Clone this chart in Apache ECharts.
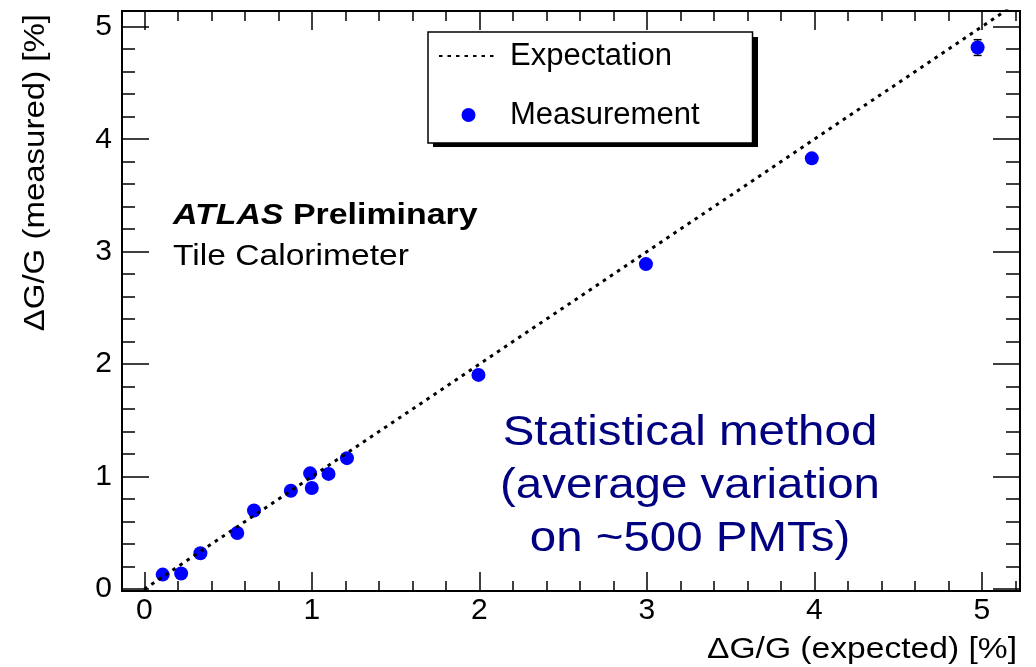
<!DOCTYPE html>
<html>

<head>
    <meta charset="utf-8">
    <script type="text/javascript" src="https://cdn.jsdelivr.net/npm/echarts@6.0.0/dist/echarts.min.js"></script>
    <title>ΔG/G measured vs expected</title>
</head>

<body style="margin:0">
    <div id="container" style="width:1036px;height:667px;"></div>
    <script type="text/javascript">
    // measured gain variation
    var measX = [0.11, 0.22, 0.335, 0.555, 0.655, 0.875, 0.99, 1.0, 1.10, 1.21, 1.995, 2.995, 3.985, 4.975];
    var measY = [0.13, 0.14, 0.32, 0.50, 0.70, 0.875, 1.03, 0.90, 1.025, 1.165, 1.905, 2.89, 3.83, 4.815];
    var measErr = [0.01, 0.01, 0.01, 0.01, 0.01, 0.015, 0.015, 0.015, 0.015, 0.02, 0.02, 0.03, 0.04, 0.07];

    // expectation: measured = expected
    var expectX = [0, 5.3];
    var expectY = [0, 5.3];

    // axis ticks
    var xTicks = [0, 1, 2, 3, 4, 5];
    var yTicks = [0, 1, 2, 3, 4, 5];

    var FONT = 'Liberation Sans';
    var STRETCH = 1.12; // text in the original is a bit wider than Arial

    function minorTicks(max) {
        var out = [];
        for (var v = 0; v <= max + 1e-9; v += 0.2) out.push(Math.round(v * 10) / 10);
        return out;
    }
    var xMinor = minorTicks(5.2);
    var yMinor = minorTicks(5.0);

    function makeAxis(range, pos, ticks, len, labels) {
        var ax = {
            type: 'value',
            position: pos,
            min: range[0],
            max: range[1],
            axisLine: { show: false, onZero: false },
            splitLine: { show: false },
            axisTick: {
                inside: true,
                length: len,
                customValues: ticks,
                lineStyle: { color: '#000', width: 1.5 }
            },
            axisLabel: { show: false }
        };
        if (labels) {
            ax.axisLabel = {
                show: true,
                customValues: ticks,
                color: '#000',
                fontFamily: FONT,
                fontSize: 30,
                margin: pos === 'left' ? 10 : 5
            };
        }
        return ax;
    }

    var xr = [-0.133, 5.228];
    var yr = [-0.016, 5.14];

    var myChart = echarts.init(document.getElementById('container'));

    var option = {
        animation: false,
        backgroundColor: '#fff',
        grid: {
            left: 122,
            top: 11,
            right: 16,
            bottom: 76,
            show: true,
            borderColor: '#000',
            borderWidth: 2,
            outerBoundsMode: 'none'
        },
        xAxis: [
            makeAxis(xr, 'bottom', xTicks, 19, true),
            makeAxis(xr, 'bottom', xMinor, 10, false),
            makeAxis(xr, 'top', xTicks, 19, false),
            makeAxis(xr, 'top', xMinor, 10, false)
        ],
        yAxis: [
            makeAxis(yr, 'left', yTicks, 27, true),
            makeAxis(yr, 'left', yMinor, 13, false),
            makeAxis(yr, 'right', yTicks, 27, false),
            makeAxis(yr, 'right', yMinor, 14, false)
        ],
        legend: {
            orient: 'vertical',
            left: 428,
            top: 32,
            padding: [6, 53, 10, 10],
            itemWidth: 59,
            itemHeight: 14,
            itemGap: 23,
            backgroundColor: '#fff',
            borderColor: '#000',
            borderWidth: 1.5,
            selectedMode: false,
            textStyle: {
                fontFamily: FONT,
                fontSize: 31,
                color: '#000',
                lineHeight: 36,
                padding: [0, 0, 0, 7]
            },
            data: [
                { name: 'Expectation', itemStyle: { opacity: 0 } },
                { name: 'Measurement' }
            ]
        },
        graphic: [{
            // legend box shadow
            type: 'rect',
            z: 3,
            shape: { x: 433, y: 37, width: 325, height: 110 },
            style: { fill: '#000' }
        }, {
            type: 'text',
            x: 173,
            y: 216,
            scaleX: 1.13,
            style: {
                text: '{a|ATLAS}{b| Preliminary}',
                verticalAlign: 'middle',
                fill: '#000',
                rich: {
                    a: { fontFamily: FONT, fontSize: 30, fontWeight: 'bold', fontStyle: 'italic' },
                    b: { fontFamily: FONT, fontSize: 30, fontWeight: 'bold' }
                }
            }
        }, {
            type: 'text',
            x: 173,
            y: 257,
            scaleX: STRETCH,
            style: {
                text: 'Tile Calorimeter',
                fontFamily: FONT,
                fontSize: 30,
                verticalAlign: 'middle',
                fill: '#000'
            }
        }, {
            type: 'text',
            x: 690,
            y: 486,
            scaleX: 1.13,
            style: {
                text: 'Statistical method\n(average variation\non ~500 PMTs)',
                fontFamily: FONT,
                fontSize: 42,
                lineHeight: 53,
                align: 'center',
                verticalAlign: 'middle',
                fill: '#000080'
            }
        }, {
            // x axis title
            type: 'text',
            x: 1017,
            y: 650,
            scaleX: STRETCH,
            style: {
                text: 'ΔG/G (expected) [%]',
                fontFamily: FONT,
                fontSize: 30,
                align: 'right',
                verticalAlign: 'middle',
                fill: '#000'
            }
        }, {
            // y axis title
            type: 'text',
            x: 36,
            y: 14,
            rotation: Math.PI / 2,
            scaleX: 1.1,
            style: {
                text: 'ΔG/G (measured) [%]',
                fontFamily: FONT,
                fontSize: 30,
                align: 'right',
                verticalAlign: 'middle',
                fill: '#000'
            }
        }],
        series: [{
            // error bars
            type: 'custom',
            silent: true,
            z: 2,
            data: measX.map(function(x, i) { return [x, measY[i], measErr[i]]; }),
            encode: { x: 0, y: 1 },
            renderItem: function(params, api) {
                var x = api.value(0), y = api.value(1), e = api.value(2);
                var top = api.coord([x, y + e]);
                var bot = api.coord([x, y - e]);
                var st = { stroke: '#000', lineWidth: 1.5 };
                return {
                    type: 'group',
                    children: [
                        { type: 'line', shape: { x1: top[0], y1: top[1], x2: bot[0], y2: bot[1] }, style: st },
                        { type: 'line', shape: { x1: top[0] - 4, y1: top[1], x2: top[0] + 4, y2: top[1] }, style: st },
                        { type: 'line', shape: { x1: bot[0] - 4, y1: bot[1], x2: bot[0] + 4, y2: bot[1] }, style: st }
                    ]
                };
            }
        }, {
            name: 'Measurement',
            type: 'scatter',
            z: 3,
            symbol: 'circle',
            symbolSize: 14,
            itemStyle: { color: '#0000ff', opacity: 1 },
            data: measX.map(function(x, i) { return [x, measY[i]]; })
        }, {
            name: 'Expectation',
            type: 'line',
            z: 4,
            symbol: 'none',
            clip: true,
            lineStyle: { color: '#000', width: 3, type: [3.5, 5] },
            itemStyle: { color: '#000' },
            data: expectX.map(function(x, i) { return [x, expectY[i]]; })
        }]
    };

    myChart.setOption(option);
    </script>
</body>

</html>
